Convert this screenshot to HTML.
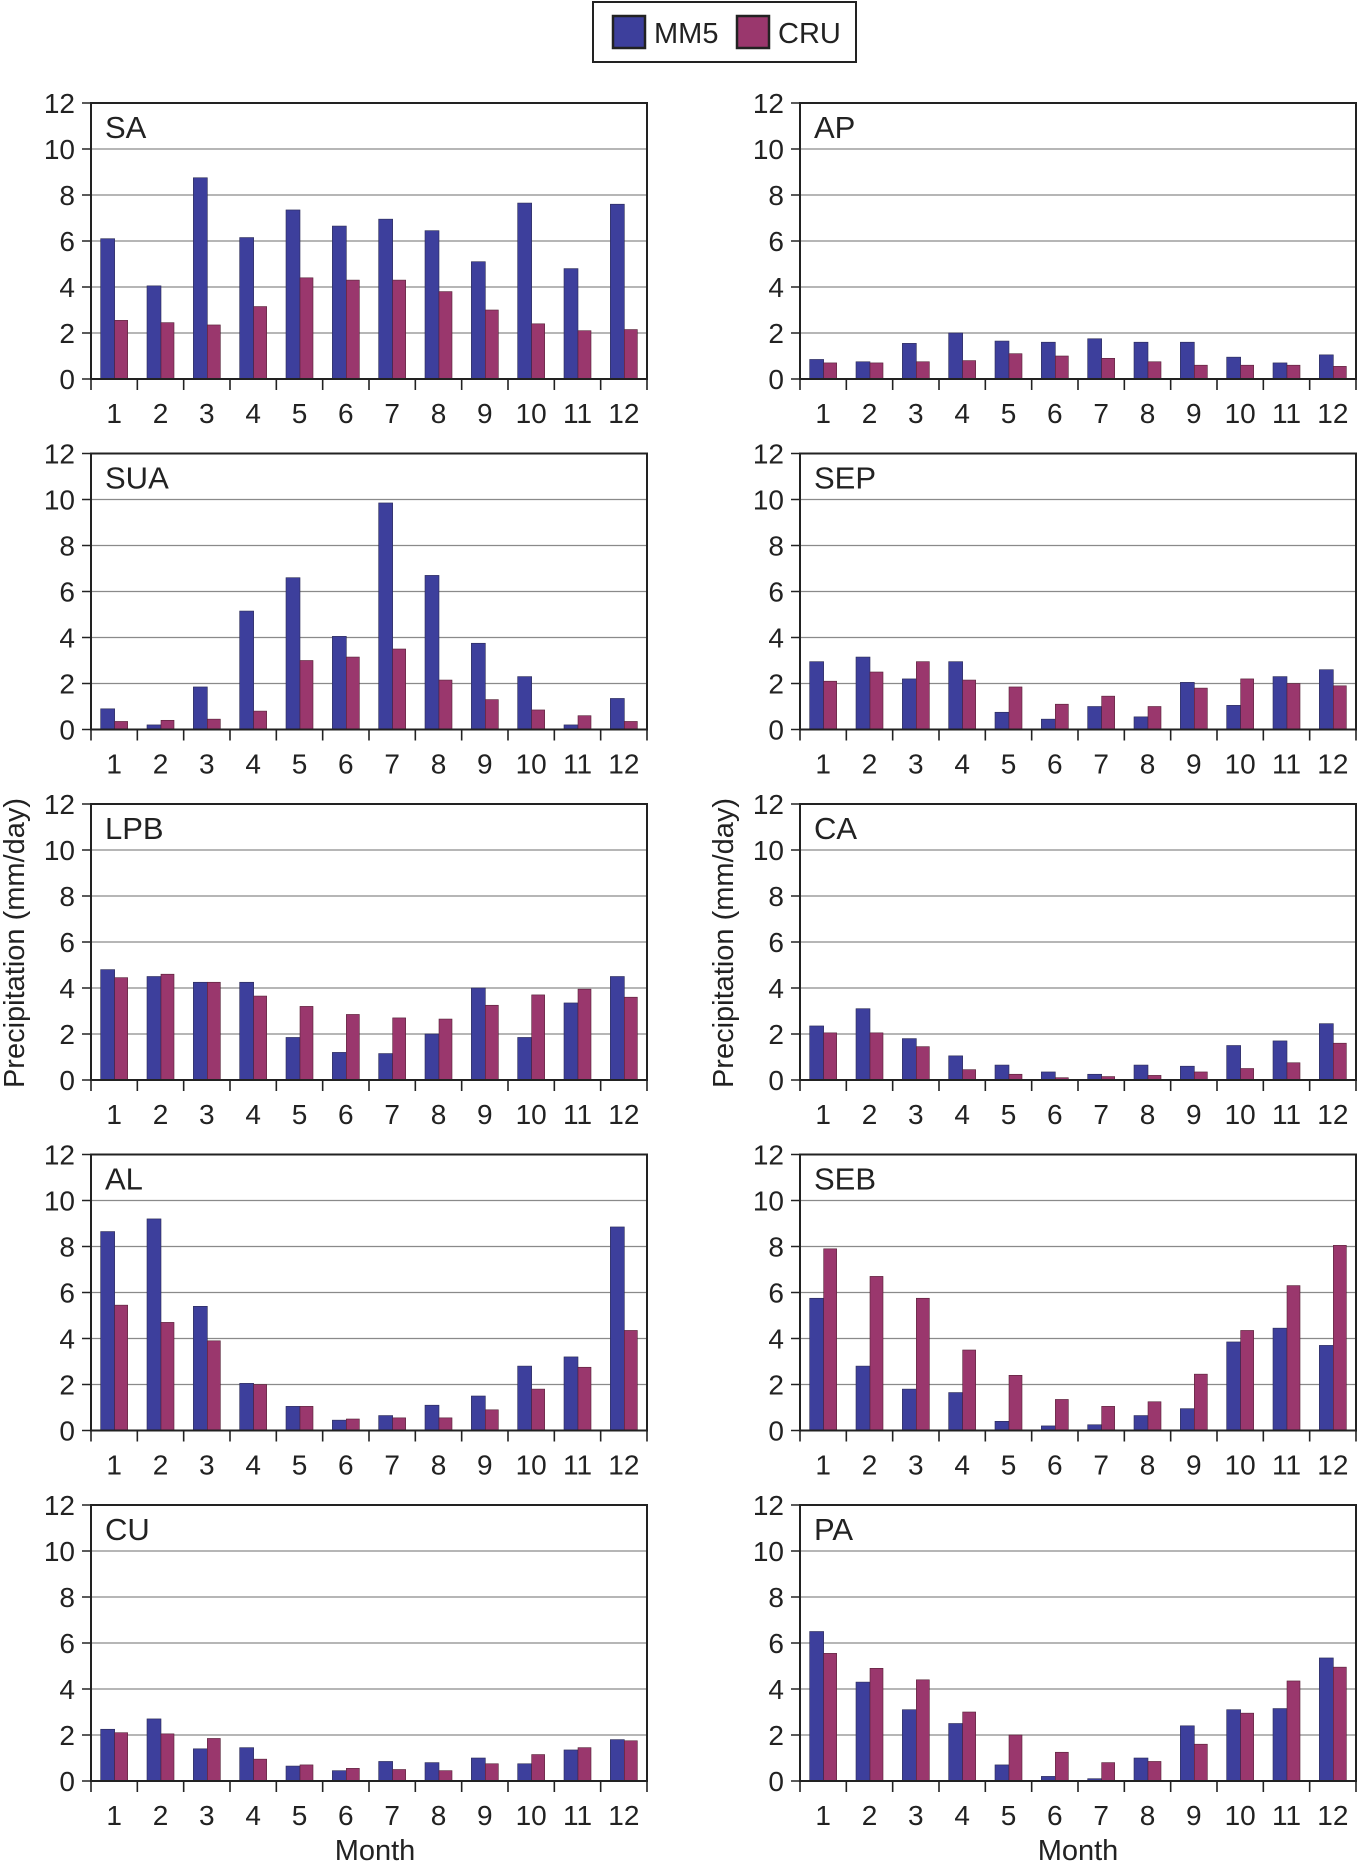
<!DOCTYPE html>
<html><head><meta charset="utf-8">
<style>
body{margin:0;background:#fff;}
svg{display:block;font-family:"Liberation Sans Narrow","Liberation Sans",sans-serif;}
</style></head>
<body>
<svg id="c" width="1358" height="1865" viewBox="0 0 1358 1865"></svg>
<script>
const months = [1,2,3,4,5,6,7,8,9,10,11,12];
const yTicks = [0,2,4,6,8,10,12];
const regions = ["SA","AP","SUA","SEP","LPB","CA","AL","SEB","CU","PA"];
const mm5SA  = [6.1,4.05,8.75,6.15,7.35,6.65,6.95,6.45,5.1,7.65,4.8,7.6];
const cruSA  = [2.55,2.45,2.35,3.15,4.4,4.3,4.3,3.8,3.0,2.4,2.1,2.15];
const mm5AP  = [0.85,0.75,1.55,2.0,1.65,1.6,1.75,1.6,1.6,0.95,0.7,1.05];
const cruAP  = [0.7,0.7,0.75,0.8,1.1,1.0,0.9,0.75,0.6,0.6,0.6,0.55];
const mm5SUA = [0.9,0.2,1.85,5.15,6.6,4.05,9.85,6.7,3.75,2.3,0.2,1.35];
const cruSUA = [0.35,0.4,0.45,0.8,3.0,3.15,3.5,2.15,1.3,0.85,0.6,0.35];
const mm5SEP = [2.95,3.15,2.2,2.95,0.75,0.45,1.0,0.55,2.05,1.05,2.3,2.6];
const cruSEP = [2.1,2.5,2.95,2.15,1.85,1.1,1.45,1.0,1.8,2.2,2.0,1.9];
const mm5LPB = [4.8,4.5,4.25,4.25,1.85,1.2,1.15,2.0,4.0,1.85,3.35,4.5];
const cruLPB = [4.45,4.6,4.25,3.65,3.2,2.85,2.7,2.65,3.25,3.7,3.95,3.6];
const mm5CA  = [2.35,3.1,1.8,1.05,0.65,0.35,0.25,0.65,0.6,1.5,1.7,2.45];
const cruCA  = [2.05,2.05,1.45,0.45,0.25,0.1,0.15,0.2,0.35,0.5,0.75,1.6];
const mm5AL  = [8.65,9.2,5.4,2.05,1.05,0.45,0.65,1.1,1.5,2.8,3.2,8.85];
const cruAL  = [5.45,4.7,3.9,2.0,1.05,0.5,0.55,0.55,0.9,1.8,2.75,4.35];
const mm5SEB = [5.75,2.8,1.8,1.65,0.4,0.2,0.25,0.65,0.95,3.85,4.45,3.7];
const cruSEB = [7.9,6.7,5.75,3.5,2.4,1.35,1.05,1.25,2.45,4.35,6.3,8.05];
const mm5CU  = [2.25,2.7,1.4,1.45,0.65,0.45,0.85,0.8,1.0,0.75,1.35,1.8];
const cruCU  = [2.1,2.05,1.85,0.95,0.7,0.55,0.5,0.45,0.75,1.15,1.45,1.75];
const mm5PA  = [6.5,4.3,3.1,2.5,0.7,0.2,0.1,1.0,2.4,3.1,3.15,5.35];
const cruPA  = [5.55,4.9,4.4,3.0,2.0,1.25,0.8,0.85,1.6,2.95,4.35,4.95];
const mm5All = [mm5SA,mm5AP,mm5SUA,mm5SEP,mm5LPB,mm5CA,mm5AL,mm5SEB,mm5CU,mm5PA];
const cruAll = [cruSA,cruAP,cruSUA,cruSEP,cruLPB,cruCA,cruAL,cruSEB,cruCU,cruPA];

const NS="http://www.w3.org/2000/svg";
const svg=document.getElementById('c');
function el(tag,attrs,parent,text){const e=document.createElementNS(NS,tag);for(const k in attrs)e.setAttribute(k,attrs[k]);if(text!==undefined)e.textContent=text;(parent||svg).appendChild(e);return e;}
const BLUE="#3d3f9c", RED="#9a376d";
const colX=[91,800], W=556, H=276, rowTop=[103,453.5,804,1154.5,1505];

regions.forEach((name,i)=>{
  const L=colX[i%2], T=rowTop[Math.floor(i/2)], B=T+H;
  const g=el('g',{});
  
  
  const y=v=>B-v/12*H;
  const gw=W/12;
  const x=k=>L+k*gw;
  yTicks.forEach(t=>{
    if(t>0&&t<12){const gl=el('line',{x1:L,x2:L+W,y1:y(t),y2:y(t),stroke:'#8a8a8a','stroke-width':1.3},g);
      
      }
    el('line',{x1:L-9,x2:L,y1:y(t),y2:y(t),stroke:'#222','stroke-width':1.5},g);
    const tl=el('text',{x:L-16,y:y(t)+10,'text-anchor':'end','font-size':28,fill:'#222'},g,String(t));
    
    
  });
  months.forEach((m,k)=>{
    const c=x(k)+gw/2;
    const b1=el('rect',{x:c-13.5,y:y(mm5All[i][k]),width:14,height:B-y(mm5All[i][k]),fill:BLUE,stroke:'#2a2a55','stroke-width':0.6},g);
    
    
    const b2=el('rect',{x:c+0.5,y:y(cruAll[i][k]),width:13,height:B-y(cruAll[i][k]),fill:RED,stroke:'#552035','stroke-width':0.6},g);
    
    
    const xl=el('text',{x:c,y:B+44,'text-anchor':'middle','font-size':28,fill:'#222'},g,String(m));
    
    
  });
  for(let k=0;k<=12;k++) el('line',{x1:x(k),x2:x(k),y1:B,y2:B+11,stroke:'#222','stroke-width':1.6},g);
  el('rect',{x:L,y:T,width:W,height:H,fill:'none',stroke:'#222','stroke-width':2},g);
  const tt=el('text',{x:L+14,y:T+35,'font-size':31,fill:'#222'},g,name);
  
  
});

[[14,'left'],[723,'right']].forEach(([xx,s])=>{
  const t=el('text',{x:0,y:0,'text-anchor':'middle','font-size':29,fill:'#222',transform:`translate(${xx+10},943) rotate(-90)`},svg,'Precipitation (mm/day)');
  
  
});
[[375,'left'],[1078,'right']].forEach(([xx,s])=>{
  const t=el('text',{x:xx,y:1860,'text-anchor':'middle','font-size':29,fill:'#222'},svg,'Month');
  
  
});

const lg=el('g',{});


el('rect',{x:593,y:2,width:263,height:60,fill:'#fff',stroke:'#222','stroke-width':2},lg);
el('rect',{x:613,y:16,width:32,height:32,fill:BLUE,stroke:'#222','stroke-width':2.5},lg);
const l1=el('text',{x:654,y:43,'font-size':29,fill:'#222'},lg,'MM5');


el('rect',{x:737,y:16,width:32,height:32,fill:RED,stroke:'#222','stroke-width':2.5},lg);
const l2=el('text',{x:778,y:43,'font-size':29,fill:'#222'},lg,'CRU');


</script>
</body></html>
